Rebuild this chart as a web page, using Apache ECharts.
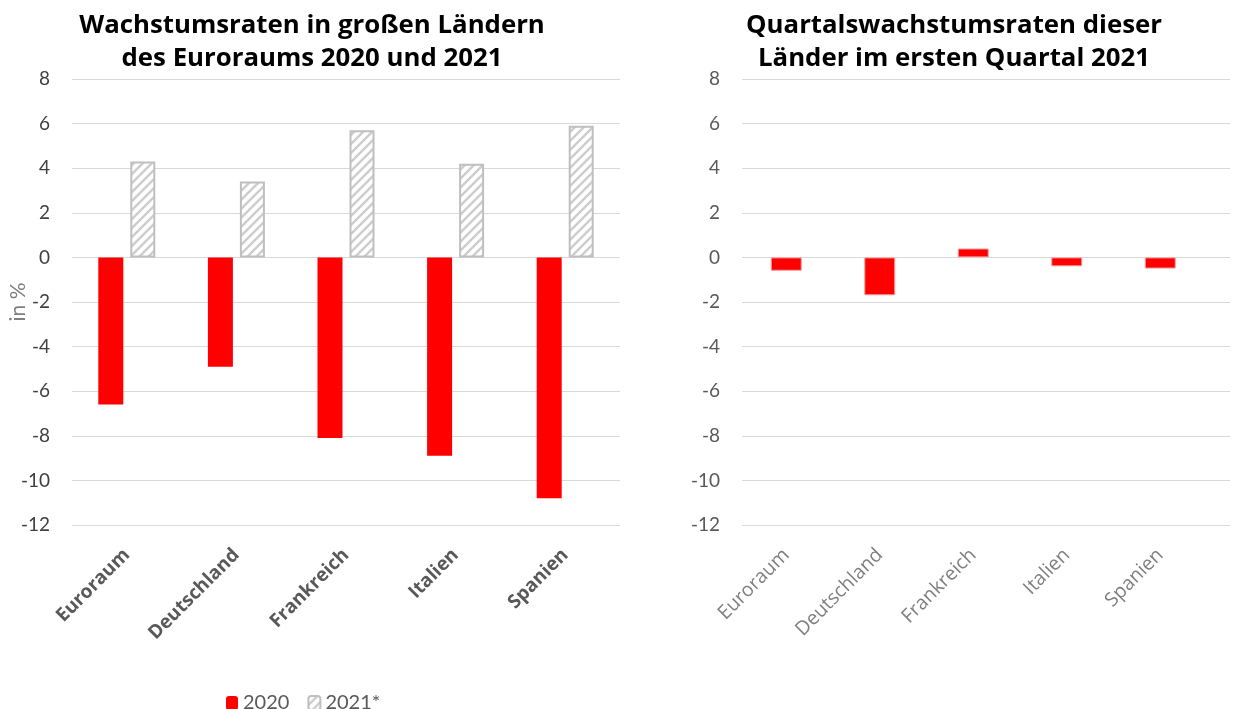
<!DOCTYPE html>
<html><head><meta charset="utf-8">
<script src="https://cdn.jsdelivr.net/npm/echarts@6/dist/echarts.min.js"></script>
<style>html,body{margin:0;padding:0;background:#fff}#c{width:1233px;height:709px}</style>
</head><body><div id="c"></div>
<script>
const categories = ['Euroraum','Deutschland','Frankreich','Italien','Spanien'];
const values2020 = [-6.6,-4.9,-8.1,-8.9,-10.8];
const values2021 = [4.3,3.4,5.7,4.2,5.9];
const valuesQ1_2021 = [-0.6,-1.7,0.4,-0.4,-0.5];
const seriesNames = ['2020','2021*'];
const titleLeft = 'Wachstumsraten in großen Ländern\ndes Euroraums 2020 und 2021';
const titleRight = 'Quartalswachstumsraten dieser\nLänder im ersten Quartal 2021';
const yMin = -12, yMax = 8, yStep = 2;

// hatch pattern
const pc = document.createElement('canvas');
pc.width = 9; pc.height = 9;
const g = pc.getContext('2d');
g.fillStyle = '#fff'; g.fillRect(0,0,9,9);
g.strokeStyle = '#cdcdcd'; g.lineWidth = 2.4;
g.beginPath();
g.moveTo(-2,11); g.lineTo(11,-2);
g.moveTo(-7,7); g.lineTo(7,-7);
g.moveTo(2,16); g.lineTo(16,2);
g.stroke();

const FONT = 'Lato, "Open Sans", sans-serif';
const TFONT = '"Open Sans", sans-serif';
const chart = echarts.init(document.getElementById('c'), null, {renderer:'canvas'});

function yAxis(gi, show){
  return {
    type:'value', gridIndex:gi, min:yMin, max:yMax, interval:yStep, show:show,
    axisLine:{show:false}, axisTick:{show:false},
    splitLine:{show:show, lineStyle:{color:'#d9d9d9', width:1}},
    axisLabel:{show:show, color: gi===0 ? '#404040' : '#595959', fontSize:19, fontFamily:FONT, margin:22},
    name: gi===0 ? 'in %' : '', nameLocation:'middle', nameGap:43, nameMoveOverlap:false,
    nameTextStyle:{color:'#7f7f7f', fontSize:21, fontFamily:FONT}
  };
}
function xAxis(gi, show, bold){
  return {
    type:'category', gridIndex:gi, data:categories, show:show,
    axisLine:{show:false}, axisTick:{show:false},
    axisLabel:{show:show, rotate:45, interval:0, margin: 27, fontSize: bold ? 19 : 19.5,
      fontWeight: bold ? 'bold' : 'normal',
      color: bold ? '#595959' : '#7f7f7f', fontFamily:TFONT}
  };
}

chart.setOption({
  animation:false,
  title:[
    {text:titleLeft, left:307, textAlign:'center', top:4,
     textStyle:{fontSize:25.8, fontWeight:'bold', color:'#000', fontFamily:TFONT, lineHeight:33}},
    {text:titleRight, left:949, textAlign:'center', top:4,
     textStyle:{fontSize:25.8, fontWeight:'bold', color:'#000', fontFamily:TFONT, lineHeight:33}}
  ],
  legend:{
    left:221, top:688, itemWidth:12, itemHeight:14, itemGap:18,
    data:seriesNames,
    textStyle:{fontSize:20, color:'#595959', fontFamily:FONT}
  },
  grid:[
    {left:72, right:613, top:79, bottom:184},
    {left:742, right:3, top:79, bottom:184},
    {left:739.5, right:26, top:79, bottom:184}
  ],
  xAxis:[xAxis(0, true, true), xAxis(1, false, false), xAxis(2, true, false)],
  yAxis:[yAxis(0, true), yAxis(1, true), yAxis(2, false)],
  series:[
    {name:seriesNames[0], type:'bar', xAxisIndex:0, yAxisIndex:0, data:values2020,
     barWidth:25, barGap:'28%', itemStyle:{color:'#ff0000'}},
    {name:seriesNames[1], type:'bar', xAxisIndex:0, yAxisIndex:0, data:values2021,
     barWidth:25, barGap:'28%',
     itemStyle:{color:{image:pc, repeat:'repeat'}, borderColor:'#bfbfbf', borderWidth:2}},
    {name:'Q1 2021', type:'bar', xAxisIndex:2, yAxisIndex:2, data:valuesQ1_2021,
     barWidth:31, itemStyle:{color:'#ff0000', borderColor:'#f4a0a0', borderWidth:1}}
  ]
});
</script></body></html>
